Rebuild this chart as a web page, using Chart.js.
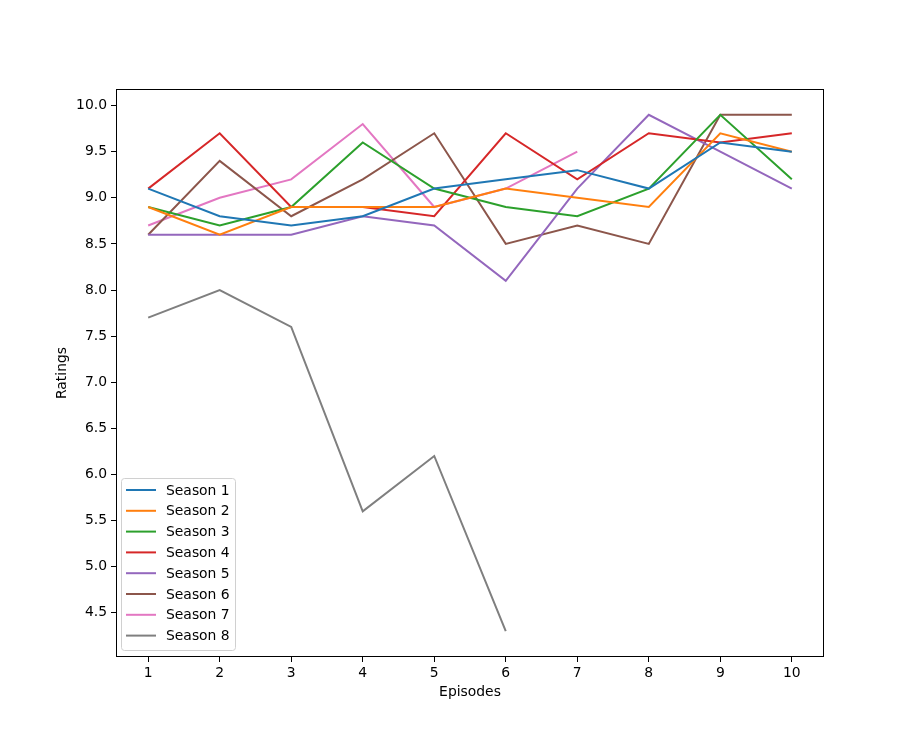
<!DOCTYPE html>
<html>
<head>
<meta charset="utf-8">
<script src="https://cdn.jsdelivr.net/npm/chart.js@4.4.0/dist/chart.umd.min.js"></script>
<style>
  html, body { margin: 0; padding: 0; background: #fff; }
  #wrap { width: 916px; height: 738px; }
</style>
</head>
<body>
<div id="wrap"><canvas id="chart" width="916" height="738"></canvas></div>
<script>
const episodes = [1, 2, 3, 4, 5, 6, 7, 8, 9, 10];
const yTicks = [4.5, 5.0, 5.5, 6.0, 6.5, 7.0, 7.5, 8.0, 8.5, 9.0, 9.5, 10.0];

const seasonNames = ['Season 1', 'Season 2', 'Season 3', 'Season 4',
                     'Season 5', 'Season 6', 'Season 7', 'Season 8'];

const season1 = [9.1, 8.8, 8.7, 8.8, 9.1, 9.2, 9.3, 9.1, 9.6, 9.5];
const season2 = [8.9, 8.6, 8.9, 8.9, 8.9, 9.1, 9.0, 8.9, 9.7, 9.5];
const season3 = [8.9, 8.7, 8.9, 9.6, 9.1, 8.9, 8.8, 9.1, 9.9, 9.2];
const season4 = [9.1, 9.7, 8.9, 8.9, 8.8, 9.7, 9.2, 9.7, 9.6, 9.7];
const season5 = [8.6, 8.6, 8.6, 8.8, 8.7, 8.1, 9.1, 9.9, 9.5, 9.1];
const season6 = [8.6, 9.4, 8.8, 9.2, 9.7, 8.5, 8.7, 8.5, 9.9, 9.9];
const season7 = [8.7, 9.0, 9.2, 9.8, 8.9, 9.1, 9.5];
const season8 = [7.7, 8.0, 7.6, 5.6, 6.2, 4.3];

const colors = ['#1f77b4', '#ff7f0e', '#2ca02c', '#d62728',
                '#9467bd', '#8c564b', '#e377c2', '#7f7f7f'];

const allSeasons = [season1, season2, season3, season4, season5, season6, season7, season8];

const FONT = '"DejaVu Sans", sans-serif';
const FSIZE = 13.9;

// рамка, підписи осей і легенда як у matplotlib
const decorPlugin = {
    id: 'decor',
    afterDraw(chart) {
        const ctx = chart.ctx;
        const a = chart.chartArea;
        ctx.save();
        ctx.strokeStyle = '#000';
        ctx.lineWidth = 1;
        ctx.strokeRect(a.left + 0.5, a.top + 0.5, a.right - a.left - 1, a.bottom - a.top - 1);

        ctx.fillStyle = '#000';
        ctx.font = FSIZE + 'px ' + FONT;
        ctx.textAlign = 'center';
        ctx.textBaseline = 'middle';
        ctx.fillText('Episodes', (a.left + a.right) / 2, a.bottom + 35);
        ctx.save();
        ctx.translate(a.left - 54, (a.top + a.bottom) / 2);
        ctx.rotate(-Math.PI / 2);
        ctx.fillText('Ratings', 0, 0);
        ctx.restore();

        // легенда
        const ds = chart.data.datasets;
        const bx = a.left + 5, by = a.bottom - 179, bw = 114, bh = 172;
        ctx.fillStyle = 'rgba(255,255,255,0.8)';
        ctx.strokeStyle = '#d0d0d0';
        ctx.beginPath();
        ctx.roundRect(bx + 0.5, by + 0.5, bw, bh, 3);
        ctx.fill();
        ctx.stroke();
        ds.forEach((d, i) => {
            const y = by + 12 + i * 20.8;
            ctx.strokeStyle = d.borderColor;
            ctx.lineWidth = 2;
            ctx.beginPath();
            ctx.moveTo(bx + 5, y);
            ctx.lineTo(bx + 35, y);
            ctx.stroke();
            ctx.fillStyle = '#000';
            ctx.textAlign = 'left';
            ctx.fillText(d.label, bx + 45, y + 1);
        });
        ctx.restore();
    }
};

const ctx = document.getElementById('chart').getContext('2d');
new Chart(ctx, {
    type: 'line',
    data: {
        datasets: allSeasons.map((vals, i) => ({
            label: seasonNames[i],
            data: vals.map((v, j) => ({x: episodes[j], y: v})),
            borderColor: colors[i],
            backgroundColor: colors[i],
            borderWidth: 2,
            pointRadius: 0,
            tension: 0,
            fill: false
        }))
    },
    options: {
        responsive: false,
        animation: false,
        layout: {padding: {left: 0, top: 89, right: 92, bottom: 0}},
        plugins: {
            legend: {display: false},
            tooltip: {enabled: false}
        },
        scales: {
            x: {
                type: 'linear',
                min: 0.55,
                max: 10.45,
                afterBuildTicks: s => { s.ticks = episodes.map(v => ({value: v})); },
                afterFit: s => { s.height = 81; },
                grid: {drawOnChartArea: false, drawTicks: true, tickLength: 5, color: '#000'},
                border: {display: false},
                ticks: {
                    color: '#000',
                    font: {family: FONT, size: FSIZE},
                    padding: 3,
                    maxRotation: 0,
                    callback: v => String(v)
                }
            },
            y: {
                type: 'linear',
                min: 4.02,
                max: 10.18,
                afterBuildTicks: s => { s.ticks = yTicks.map(v => ({value: v})); },
                afterFit: s => { s.width = 116; },
                grid: {drawOnChartArea: false, drawTicks: true, tickLength: 5, color: '#000'},
                border: {display: false},
                ticks: {
                    color: '#000',
                    font: {family: FONT, size: FSIZE},
                    padding: 4,
                    callback: v => v.toFixed(1)
                }
            }
        }
    },
    plugins: [decorPlugin]
});
</script>
</body>
</html>
